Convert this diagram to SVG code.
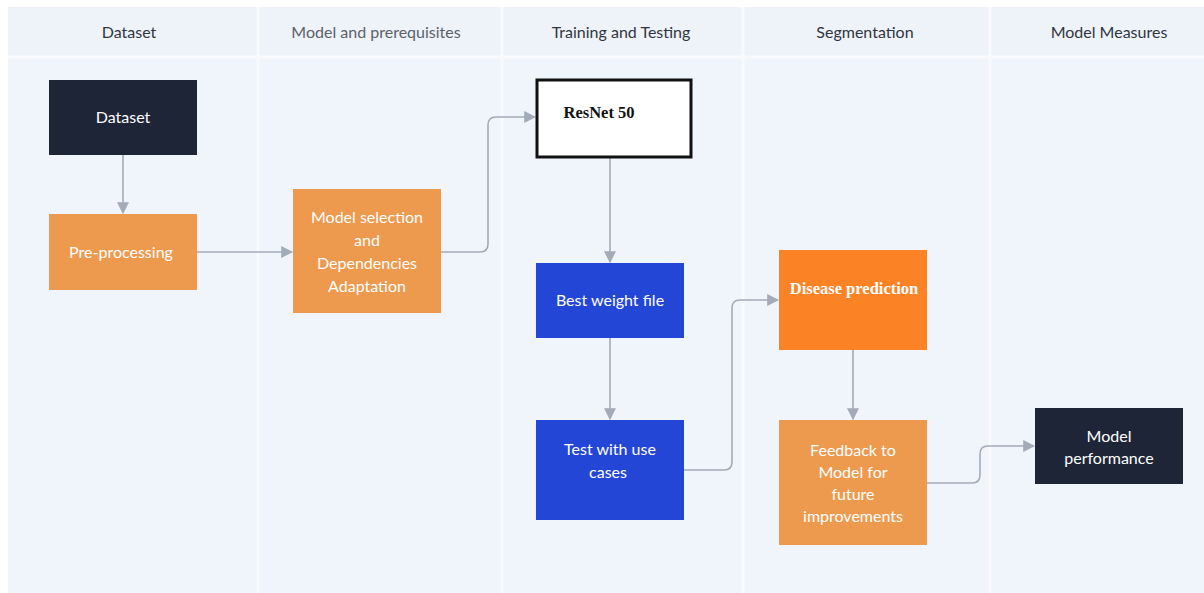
<svg xmlns="http://www.w3.org/2000/svg" width="1204" height="593" viewBox="0 0 1204 593">
<defs>
<style>
.lane{fill:#f0f4fb}
.sep{stroke:#f8fafd;stroke-width:3}
.hdr{font-family:Lato,"Liberation Sans",sans-serif;font-size:16px;fill:#30363f;text-anchor:middle}
.t{font-family:Lato,"Liberation Sans",sans-serif;font-size:16px;fill:#ffffff;text-anchor:middle}
.ts{font-family:"Liberation Serif",serif;font-size:16.5px;font-weight:bold;text-anchor:middle}
.dark{fill:#1e2537}
.org{fill:#ee9a4e}
.blue{fill:#2446d6}
.conn path{fill:none;stroke:#a3abb8;stroke-width:1.6}
</style>
<marker id="a" viewBox="0 0 10 10" refX="9" refY="5" markerWidth="12" markerHeight="12" orient="auto" markerUnits="userSpaceOnUse">
<path d="M0,0 L10,5 L0,10 z" fill="#a3abb8"/>
</marker>
</defs>
<rect width="1204" height="593" fill="#ffffff"/>
<rect x="8" y="7" width="1196" height="586" class="lane"/>
<rect x="8" y="7" width="1196" height="49" fill="#eef2f9"/>
<line x1="8" y1="57" x2="1204" y2="57" class="sep"/>
<g id="lanes">
<line x1="258" y1="7" x2="258" y2="593" class="sep"/>
<line x1="502" y1="7" x2="502" y2="593" class="sep"/>
<line x1="743" y1="7" x2="743" y2="593" class="sep"/>
<line x1="990" y1="7" x2="990" y2="593" class="sep"/>
<text x="129" y="38" class="hdr">Dataset</text>
<text x="376" y="38" class="hdr" style="fill:#5a616b">Model and prerequisites</text>
<text x="621" y="38" class="hdr">Training and Testing</text>
<text x="865" y="38" class="hdr">Segmentation</text>
<text x="1109" y="38" class="hdr">Model Measures</text>
</g>
<g class="conn" id="connectors">
<path d="M123,155 V213" marker-end="url(#a)"/>
<path d="M197,252 H292" marker-end="url(#a)"/>
<path d="M441,252 H480 Q488,252 488,244 V125 Q488,117 496,117 H535" marker-end="url(#a)"/>
<path d="M610,158 V262" marker-end="url(#a)"/>
<path d="M610,338 V419" marker-end="url(#a)"/>
<path d="M684,470 H724 Q732,470 732,462 V308 Q732,300 740,300 H778" marker-end="url(#a)"/>
<path d="M853,350 V419" marker-end="url(#a)"/>
<path d="M927,483 H972 Q980,483 980,475 V454 Q980,446 988,446 H1034" marker-end="url(#a)"/>
</g>
<g id="n-dataset"><rect x="49" y="80" width="148" height="75" class="dark"/><text x="123" y="123" class="t">Dataset</text></g>
<g id="n-pre"><rect x="49" y="214" width="148" height="76" class="org"/><text x="121" y="258" class="t">Pre-processing</text></g>
<g id="n-model"><rect x="293" y="189" width="148" height="124" class="org"/>
<text class="t"><tspan x="367" y="223">Model selection</tspan><tspan x="367" y="246">and</tspan><tspan x="367" y="269">Dependencies</tspan><tspan x="367" y="292">Adaptation</tspan></text></g>
<g id="n-resnet"><rect x="537" y="80" width="154" height="77" fill="#ffffff" stroke="#111111" stroke-width="3"/><text x="599" y="118" class="ts" fill="#111111">ResNet 50</text></g>
<g id="n-best"><rect x="536" y="263" width="148" height="75" class="blue"/><text x="610" y="306" class="t">Best weight file</text></g>
<g id="n-test"><rect x="536" y="420" width="148" height="100" class="blue"/>
<text class="t"><tspan x="610" y="455">Test  with use</tspan><tspan x="608" y="478">cases</tspan></text></g>
<g id="n-disease"><rect x="779" y="250" width="148" height="100" fill="#fb8326"/><text x="854" y="294" class="ts" fill="#ffffff">Disease prediction</text></g>
<g id="n-feedback"><rect x="779" y="420" width="148" height="125" class="org"/>
<text class="t"><tspan x="853" y="456">Feedback to</tspan><tspan x="853" y="478">Model for</tspan><tspan x="853" y="500">future</tspan><tspan x="853" y="522">improvements</tspan></text></g>
<g id="n-perf"><rect x="1035" y="408" width="148" height="76" class="dark"/>
<text class="t"><tspan x="1109" y="442">Model</tspan><tspan x="1109" y="464">performance</tspan></text></g>
</svg>
